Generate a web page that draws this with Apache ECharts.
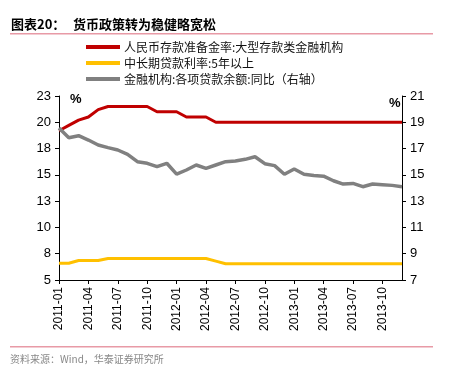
<!DOCTYPE html>
<html><head><meta charset="utf-8">
<script src="https://cdn.jsdelivr.net/npm/echarts@6/dist/echarts.min.js"></script>
<style>html,body{margin:0;padding:0;background:#fff}#c{width:467px;height:367px}</style>
</head><body><div id="c"></div>
<script>
var months = [];
for (var y = 2011; y <= 2013; y++) for (var m = 1; m <= 12; m++) months.push(y + '-' + (m < 10 ? '0' + m : m));
var seriesNames = ['人民币存款准备金率:大型存款类金融机构', '中长期贷款利率:5年以上', '金融机构:各项贷款余额:同比（右轴）'];
var rrr = [19.2, 19.7, 20.2, 20.5, 21.2, 21.5, 21.5, 21.5, 21.5, 21.5, 21.0, 21.0,
           21.0, 20.5, 20.5, 20.5, 20.0, 20.0, 20.0, 20.0, 20.0, 20.0, 20.0, 20.0,
           20.0, 20.0, 20.0, 20.0, 20.0, 20.0, 20.0, 20.0, 20.0, 20.0, 20.0, 20.0];
var loanRate = [6.6, 6.6, 6.85, 6.85, 6.85, 7.05, 7.05, 7.05, 7.05, 7.05, 7.05, 7.05,
                7.05, 7.05, 7.05, 7.05, 6.8, 6.55, 6.55, 6.55, 6.55, 6.55, 6.55, 6.55,
                6.55, 6.55, 6.55, 6.55, 6.55, 6.55, 6.55, 6.55, 6.55, 6.55, 6.55, 6.55];
var loanGrowth = [18.56, 17.83, 17.98, 17.65, 17.27, 17.07, 16.89, 16.56, 16.0, 15.88, 15.62, 15.88,
                  15.05, 15.37, 15.75, 15.5, 15.75, 16.0, 16.05, 16.18, 16.38, 15.85, 15.7, 15.05,
                  15.45, 15.05, 14.95, 14.9, 14.55, 14.3, 14.35, 14.1, 14.3, 14.25, 14.2, 14.1];
var leftTickLabels = ['5', '8', '10', '13', '15', '18', '20', '23'];
var colors = ['#C00000', '#FFC000', '#808080'];

var chart = echarts.init(document.getElementById('c'), null, {renderer: 'canvas'});
var font = '"Liberation Sans", Arial, sans-serif';
var cjk = '"Noto Sans CJK SC", sans-serif';
chart.setOption({
  animation: false,
  color: colors,
  grid: {left: 59, right: 65, top: 96, bottom: 87, containLabel: false},
  legend: {
    orient: 'vertical', left: 86, top: 40, itemWidth: 34, itemHeight: 4, itemGap: 2,
    icon: 'rect', padding: 0,
    textStyle: {fontFamily: cjk, fontSize: 12, lineHeight: 14, color: '#111', padding: [0, 0, 0, -1]},
    data: seriesNames
  },
  xAxis: {
    type: 'category', data: months, boundaryGap: false,
    axisLine: {lineStyle: {color: '#000', width: 1}},
    axisTick: {interval: 2, length: 4, lineStyle: {color: '#000'}},
    axisLabel: {interval: 2, rotate: 90, fontFamily: font, fontSize: 12, color: '#000', margin: 7}
  },
  yAxis: [{
    type: 'value', min: 5, max: 22.5, interval: 2.5,
    axisLine: {show: true, lineStyle: {color: '#000'}},
    axisTick: {show: true, length: 4, lineStyle: {color: '#000'}},
    splitLine: {show: false},
    axisLabel: {fontFamily: font, fontSize: 13, color: '#000', margin: 8,
      formatter: function (v) { return leftTickLabels[Math.round((v - 5) / 2.5)]; }}
  }, {
    type: 'value', min: 7, max: 21, interval: 2,
    axisLine: {show: true, lineStyle: {color: '#000'}},
    axisTick: {show: true, length: 4, lineStyle: {color: '#000'}},
    splitLine: {show: false},
    axisLabel: {fontFamily: font, fontSize: 13, color: '#000', margin: 8}
  }],
  series: [
    {name: seriesNames[0], type: 'line', data: rrr, yAxisIndex: 0, symbol: 'none', lineStyle: {width: 3, color: colors[0]}},
    {name: seriesNames[1], type: 'line', data: loanRate, yAxisIndex: 0, symbol: 'none', lineStyle: {width: 3, color: colors[1]}},
    {name: seriesNames[2], type: 'line', data: loanGrowth, yAxisIndex: 1, symbol: 'none', lineStyle: {width: 3.5, color: colors[2]}}
  ],
  graphic: [
    {type: 'text', left: 11, top: 18, style: {text: '图表20：', font: 'bold 13px ' + cjk, fill: '#000'}},
    {type: 'text', left: 73, top: 18, style: {text: '货币政策转为稳健略宽松', font: 'bold 13px ' + cjk, fill: '#000'}},
    {type: 'rect', shape: {x: 10, y: 33, width: 423, height: 1.5}, style: {fill: '#E89AA6'}},
    {type: 'text', left: 70, top: 93, style: {text: '%', font: 'bold 13px ' + font, fill: '#000'}},
    {type: 'text', left: 389, top: 97, style: {text: '%', font: 'bold 13px ' + font, fill: '#000'}},
    {type: 'rect', shape: {x: 10, y: 346, width: 423, height: 1.5}, style: {fill: '#E89AA6'}},
    {type: 'text', left: 10, top: 354, style: {text: '资料来源：Wind，华泰证券研究所', font: '10px ' + cjk, fill: '#888'}}
  ]
});
</script></body></html>
